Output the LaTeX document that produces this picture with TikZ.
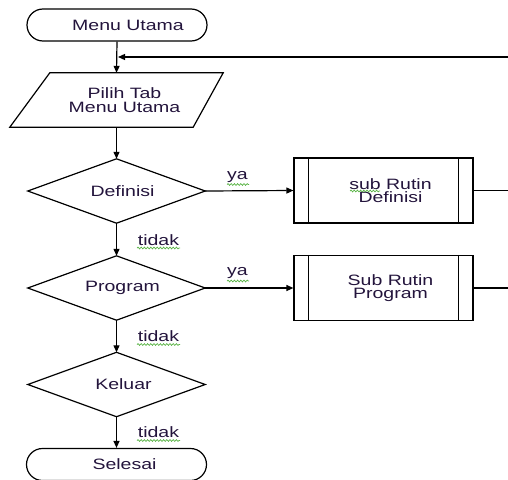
\documentclass[tikz,border=0pt]{standalone}
\usepackage{fontspec}
\setmainfont{Liberation Sans}[FakeStretch=1.3]
\usetikzlibrary{shapes.geometric,arrows.meta,calc,decorations.pathmorphing}
\definecolor{txt}{RGB}{35,20,60}
\definecolor{squig}{RGB}{90,180,70}
\begin{document}
\begin{tikzpicture}[x=1pt,y=-1pt,
  every node/.style={font=\fontsize{15}{13.5}\selectfont,text=txt,inner sep=0pt},
  line/.style={line width=1.2pt,draw=black},
  arr/.style={line, -{Triangle[length=7pt,width=6pt]}},
  term/.style={line, rectangle, rounded corners=16pt, minimum width=180pt, minimum height=32pt},
  decbox/.style={rectangle, minimum width=177pt, minimum height=64pt},
  subbox/.style={line, rectangle, minimum width=179pt, minimum height=65pt, align=center},
  iolbl/.style={minimum width=173pt, minimum height=54pt, align=center},
  lbl/.style={text=txt},
  wavy/.style={draw=squig, line width=0.7pt, decorate, decoration={snake, amplitude=0.9pt, segment length=3.2pt}}
]
\useasboundingbox (0,0) rectangle (508,479);

% nodes
\node[term] (mu) at (117,25) {\hspace*{22pt}Menu Utama};
\node[iolbl] (p) at (116.5,100) {\hspace*{16pt}Pilih Tab\\\hspace*{16pt}Menu Utama};
\draw[line] ($(p.north west)+(20,0)$) -- ($(p.north east)+(20,0)$)
  -- ($(p.south east)+(-10,0)$) -- ($(p.south west)+(-20,0)$) -- cycle;

\node[decbox] (def) at (116.5,191) {\hspace*{12pt}Definisi};
\node[decbox] (prog) at (116.5,288) {\hspace*{12pt}Program};
\node[decbox] (kel) at (116.5,384.5) {\hspace*{14pt}Keluar};
\foreach \d in {def,prog,kel}
  \draw[line] (\d.north) -- (\d.east) -- (\d.south) -- (\d.west) -- cycle;

\node[term] (sel) at (116.5,464.5) {\hspace*{16pt}Selesai};

\node[subbox] (sd) at (383.5,190.5) {\hspace*{14pt}sub Rutin\\\hspace*{14pt}Definisi};
\node[subbox] (sp) at (383.5,288) {\hspace*{14pt}Sub Rutin\\\hspace*{14pt}Program};
\foreach \b in {sd,sp}{
  \draw[line] ($(\b.north west)+(15,0)$) -- ($(\b.south west)+(15,0)$);
  \draw[line] ($(\b.north east)+(-15,0)$) -- ($(\b.south east)+(-15,0)$);
}

% coordinates for free ends
\coordinate (fbR) at (510,57);
\coordinate (fbL) at (117,57);
\coordinate (sdR) at (510,190.5);
\coordinate (spR) at (510,288);

% connectors
\draw[arr] (mu.south) -- (p.north);
\draw[arr] (fbR) -- ($(fbL)+(1,0)$);
\draw[arr] (p.south) -- (def.north);
\draw[arr] (def.east) -- (sd.west);
\draw[line] (sd.east) -- (sdR);
\draw[arr] (def.south) -- (prog.north);
\draw[arr] (prog.east) -- (sp.west);
\draw[line] (sp.east) -- (spR);
\draw[arr] (prog.south) -- (kel.north);
\draw[arr] (kel.south) -- (sel.north);

% labels
\node[lbl] (ya1) at (237.5,177) {ya};
\node[lbl] (ya2) at (237.5,273) {ya};
\node[lbl] (t1) at (158.5,240) {tidak};
\node[lbl] (t2) at (158.5,336.5) {tidak};
\node[lbl] (t3) at (158.5,432.5) {tidak};

% spell-check squiggles
\draw[wavy] (227,184.5) -- (249,184.5);
\draw[wavy] (227,281) -- (249,281);
\foreach \y in {248,344.5,440.5} \draw[wavy] (137,\y) -- (180,\y);
\draw[wavy] (350,191) -- (380,191);
\end{tikzpicture}
\end{document}
